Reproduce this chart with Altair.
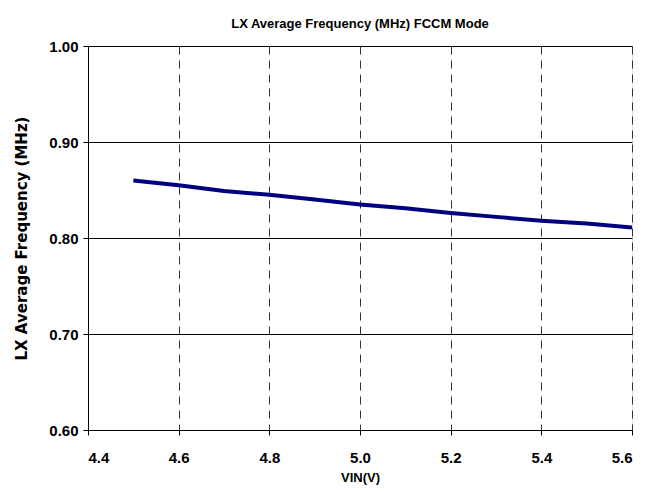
import altair as alt
import pandas as pd

vin = [4.5, 4.6, 4.7, 4.8, 4.9, 5.0, 5.1, 5.2, 5.3, 5.4, 5.5, 5.6]
freq = [0.860, 0.855, 0.849, 0.845, 0.840, 0.835, 0.831, 0.826, 0.822, 0.818, 0.815, 0.811]
x_ticks = [4.4, 4.6, 4.8, 5.0, 5.2, 5.4, 5.6]
y_ticks = [0.60, 0.70, 0.80, 0.90, 1.00]

df = pd.DataFrame({"VIN": vin, "Freq": freq})
FONT = "Liberation Sans"
YT_FONT = "DejaVu Sans"

base = alt.Chart(df)

line = base.mark_line(color="#000080", strokeWidth=4, clip=True).encode(
    x=alt.X("VIN:Q",
            scale=alt.Scale(domain=[4.4, 5.6], nice=False, zero=False),
            axis=alt.Axis(values=x_ticks, format=".1f", title="VIN(V)",
                          grid=True, gridDash=[8, 6], gridColor="#333333", gridWidth=1,
                          domain=True, domainColor="black", tickColor="black", tickSize=5,
                          labelFont=FONT, labelFontSize=15, labelFontWeight="bold",
                          labelColor="black", labelPadding=15,
                          titleFont=FONT, titleFontSize=13, titleFontWeight="bold",
                          titleColor="black", titlePadding=6)),
    y=alt.Y("Freq:Q",
            scale=alt.Scale(domain=[0.6, 1.0], nice=False, zero=False),
            axis=alt.Axis(values=y_ticks, format=".2f", title="LX Average Frequency (MHz)",
                          grid=True, gridColor="black", gridWidth=1,
                          domain=True, domainColor="black", tickColor="black", tickSize=5,
                          labelFont=FONT, labelFontSize=15, labelFontWeight="bold",
                          labelColor="black", labelPadding=5,
                          titleFont=YT_FONT, titleFontSize=15, titleFontWeight="bold",
                          titleColor="black", titlePadding=19)),
)

chart = line.properties(
    width=544, height=384,
    title=alt.TitleParams("LX Average Frequency (MHz) FCCM Mode", font=FONT,
                          fontSize=13, fontWeight="bold", color="black",
                          anchor="middle", offset=8),
    autosize=alt.AutoSizeParams(type="none"),
    padding={"left": 80, "top": 38, "right": 16, "bottom": 55},
).configure_view(stroke="black", strokeWidth=1).configure(background="white")

chart.save("out.html", embed_options={"renderer": "svg", "actions": False})
